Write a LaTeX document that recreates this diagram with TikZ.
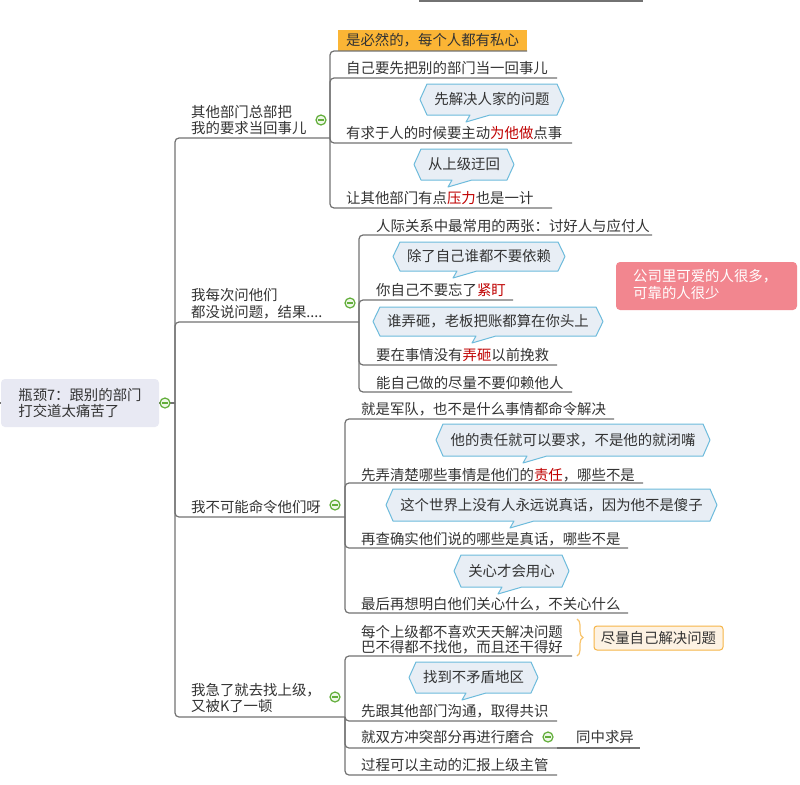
\documentclass[tikz,border=0pt]{standalone}
\usepackage{fontspec}
\setmainfont{Noto Sans CJK SC}
\usetikzlibrary{decorations.pathreplacing}
\definecolor{linegray}{HTML}{727272}
\definecolor{txt}{HTML}{333333}
\definecolor{redtxt}{HTML}{C00000}
\definecolor{cofill}{HTML}{E8EEF5}
\definecolor{coline}{HTML}{6DBBDC}
\definecolor{rootfill}{HTML}{E8E9F3}
\definecolor{orangefill}{HTML}{FBB535}
\definecolor{pinkfill}{HTML}{F2868F}
\definecolor{sumfill}{HTML}{FDF2E3}
\definecolor{sumline}{HTML}{F6B548}
\definecolor{icongreen}{HTML}{62AE3A}
\definecolor{iconfill}{HTML}{EEF7E8}
\newcommand\fs{\fontsize{14.4}{16}\selectfont}
\newcommand\rd[1]{\textcolor{redtxt}{#1}}
\newcommand\mmcallout[7]{%
  \draw[callout] (#1,{(#3+#4)/2}) -- (#1+7,#3) -- (#2-7,#3) -- (#2,{(#3+#4)/2}) -- (#2-7,#4) -- (#5+24,#4) -- (#5,#4+7) -- (#5+4,#4) -- (#1+7,#4) -- cycle;
  \node[tx,anchor=base] (#6) at ({(#1+#2)/2},{(#3+#4)/2+5}) {#7};
}
\begin{document}
\begin{tikzpicture}[x=1pt,y=-1pt,
  tx/.style={anchor=base west,inner sep=0pt,font=\fs,text=txt},
  conn/.style={draw=linegray,line width=1.2pt,rounded corners=4pt},
  callout/.style={draw=coline,fill=cofill,line width=1pt,line join=round},
  icon/.style={circle,draw=icongreen,fill=iconfill,line width=1.2pt,minimum size=10pt,inner sep=0pt,
    path picture={\draw[icongreen,line width=1.4pt] ([xshift=2.4pt]path picture bounding box.west) -- ([xshift=-2.4pt]path picture bounding box.east);}},
]
\useasboundingbox (0,0) rectangle (800,784);
\fill[white] (0,0) rectangle (800,784);

% top stray line
\coordinate (topa) at (419,1);
\coordinate (topb) at (643,1);
\draw[linegray,line width=1.5pt] (topa) -- (topb);

% root
\node[fill=rootfill,rounded corners=4pt,minimum width=158pt,minimum height=48pt,align=left,font=\fs,text=txt,inner sep=0pt] (root) at (80,403) {瓶颈7：跟别的部门\\打交道太痛苦了};
\coordinate (rootL) at (0,403);
\coordinate (rootJ) at (175,403);

% orange box
\node[fill=orangefill,inner sep=0pt,minimum width=189pt,minimum height=21pt,font=\fs,text=txt] (t11) at (432.5,40.5) {是必然的，每个人都有私心};

% junction / underline coordinates
\coordinate (b1e) at (330,138);
\coordinate (b2e) at (359,322);
\coordinate (b3e) at (345,517);
\coordinate (b4e) at (345,717);
\coordinate (c11e) at (527,51);
\coordinate (c12e) at (557,78);
\coordinate (c13e) at (572,143);
\coordinate (c14e) at (552,208);
\coordinate (c21e) at (652,235);
\coordinate (c22e) at (513,300);
\coordinate (c23e) at (557,365);
\coordinate (c24e) at (572,392);
\coordinate (c31e) at (614,419);
\coordinate (c32e) at (643,483);
\coordinate (c33e) at (628,548);
\coordinate (c34e) at (628,613);
\coordinate (c41e) at (572,656);
\coordinate (c42e) at (557,721);
\coordinate (c43e) at (557,748);
\coordinate (c43ae) at (640,748);
\coordinate (c44e) at (557,775);

% connectors
\draw[conn] (rootL) -- (root.west);
\draw[conn] (root.east) -- (rootJ);
\draw[conn] (rootJ) |- (b1e);
\draw[conn] (rootJ) |- (b2e);
\draw[conn] (rootJ) |- (b3e);
\draw[conn] (rootJ) |- (b4e);
\foreach \c in {c11e,c12e,c13e,c14e} \draw[conn] (b1e) |- (\c);
\foreach \c in {c21e,c22e,c23e,c24e} \draw[conn] (b2e) |- (\c);
\foreach \c in {c31e,c32e,c33e,c34e} \draw[conn] (b3e) |- (\c);
\foreach \c in {c41e,c42e,c43e,c44e} \draw[conn] (b4e) |- (\c);
\draw[conn] (c43e) -- (c43ae);

% branch labels
\node[tx] (b1a) at (191,117) {其他部门总部把};
\node[tx] (b1b) at (191,133) {我的要求当回事儿};
\node[tx] (b2a) at (191,300) {我每次问他们};
\node[tx] (b2b) at (191,317) {都没说问题，结果....};
\node[tx] (b3) at (191,512) {我不可能命令他们呀};
\node[tx] (b4a) at (191,695) {我急了就去找上级，};
\node[tx] (b4b) at (191,711) {又被K了一顿};

% topics
\node[tx] (t12) at (346,74) {自己要先把别的部门当一回事儿};
\node[tx] (t13) at (346,138) {有求于人的时候要主动\rd{为他做}点事};
\node[tx] (t14) at (346,203) {让其他部门有点\rd{压力}也是一计};
\node[tx] (t21) at (376,231) {人际关系中最常用的两张：讨好人与应付人};
\node[tx] (t22) at (376,295) {你自己不要忘了\rd{紧盯}};
\node[tx] (t23) at (376,360) {要在事情没有\rd{弄砸}以前挽救};
\node[tx] (t24) at (376,388) {能自己做的尽量不要仰赖他人};
\node[tx] (t31) at (361,414) {就是军队，也不是什么事情都命令解决};
\node[tx] (t32) at (361,480) {先弄清楚哪些事情是他们的\rd{责任}，哪些不是};
\node[tx] (t33) at (361,544) {再查确实他们说的哪些是真话，哪些不是};
\node[tx] (t34) at (361,609) {最后再想明白他们关心什么，不关心什么};
\node[tx] (t41a) at (361,637) {每个上级都不喜欢天天解决问题};
\node[tx] (t41b) at (361,652) {巴不得都不找他，而且还干得好};
\node[tx] (t42) at (361,716) {先跟其他部门沟通，取得共识};
\node[tx] (t43) at (361,742) {就双方冲突部分再进行磨合};
\node[tx] (t43a) at (576,742) {同中求异};
\node[tx] (t44) at (361,770) {过程可以主动的汇报上级主管};

% callouts
\mmcallout{420}{564}{84}{115}{466}{k1}{先解决人家的问题}
\mmcallout{414}{514}{149}{180}{448}{k2}{从上级迂回}
\mmcallout{393}{565}{242}{271}{453}{k3}{除了自己谁都不要依赖}
\mmcallout{373}{603}{307}{336}{472}{k4}{谁弄砸，老板把账都算在你头上}
\mmcallout{436}{710}{424}{456}{523}{k5}{他的责任就可以要求，不是他的就闭嘴}
\mmcallout{386}{717}{489}{521}{510}{k6}{这个世界上没有人永远说真话，因为他不是傻子}
\mmcallout{454}{569}{555}{587}{498}{k7}{关心才会用心}
\mmcallout{409}{538}{662}{693}{462}{k8}{找到不矛盾地区}

% pink floating note
\node[fill=pinkfill,rounded corners=4pt,minimum width=181pt,minimum height=48pt,inner sep=0pt] (pink) at (706.5,286) {};
\node[tx,text=white] (pinka) at (633,281) {公司里可爱的人很多，};
\node[tx,text=white] (pinkb) at (633,298) {可靠的人很少};

% summary brace and box
\coordinate (bra) at (577,619);
\coordinate (brb) at (577,656);
\draw[draw=sumline!80,line width=1.2pt,decorate,decoration={brace,amplitude=6pt}] (bra) -- (brb);
\node[fill=sumfill,draw=sumline,line width=1pt,rounded corners=3pt,minimum width=129pt,minimum height=24pt,inner sep=0pt,font=\fs,text=txt] (sum) at (658.5,638) {尽量自己解决问题};

% collapse icons
\node[icon] (i0) at (165,403) {};
\node[icon] (i1) at (321,120) {};
\node[icon] (i2) at (350,303) {};
\node[icon] (i3) at (335,505) {};
\node[icon] (i4) at (335,697) {};
\node[icon] (i5) at (548,737) {};
\end{tikzpicture}
\end{document}
